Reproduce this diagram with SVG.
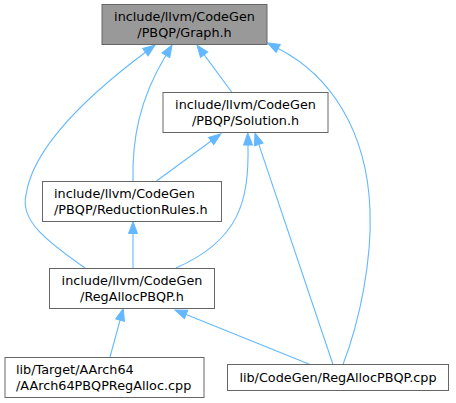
<svg xmlns="http://www.w3.org/2000/svg" width="456" height="403" viewBox="0 0 456 403">
<style>
.box{fill:#ffffff;stroke:#666666;stroke-width:1}
.cur{fill:#999999;stroke:#666666;stroke-width:1}
text{font-family:"DejaVu Sans",sans-serif;font-size:12.8px;fill:#000000}
.c{text-anchor:middle}
.l{text-anchor:start}
.e{fill:none;stroke:#63b8ff;stroke-width:1.1;marker-end:url(#ah)}
</style>
<defs>
<marker id="ah" markerWidth="12" markerHeight="10" refX="0" refY="5" orient="auto" markerUnits="userSpaceOnUse" viewBox="0 0 12 10" overflow="visible">
<path d="M0,0.5 L12,5 L0,9.5 z" fill="#63b8ff" stroke="#63b8ff" stroke-width="1"/>
</marker>
</defs>
<rect width="456" height="403" fill="#ffffff"/>
<g id="edges">
<path class="e" d="M85,268 C45,240 20,220 26,195 C33,145 95,90 145.4,52.2"/>
<path class="e" d="M133,181 C132,140 139,100 165.9,55.3"/>
<path class="e" d="M232,92.5 L204.1,54.7"/>
<path class="e" d="M343,364.5 C360,320 372,260 370,210 C367,130 330,75 278.2,48.4"/>
<path class="e" d="M156.5,181 L211.1,141"/>
<path class="e" d="M176,268 C240,240 249,200 248,145"/>
<path class="e" d="M333,364.5 L258.8,144.4"/>
<path class="e" d="M133,268 L133,233.5"/>
<path class="e" d="M110,357 L120.1,320.1"/>
<path class="e" d="M310,364.5 L186.1,314.5"/>
</g>
<g id="graph_h">
<rect class="cur" x="102" y="4.5" width="165" height="40"/>
<text class="c" x="184.5" y="21">include/llvm/CodeGen</text>
<text class="c" x="184.5" y="37">/PBQP/Graph.h</text>
</g>
<g id="solution_h">
<rect class="box" x="163" y="92.5" width="165" height="40"/>
<text class="c" x="245.5" y="109">include/llvm/CodeGen</text>
<text class="c" x="245.5" y="125">/PBQP/Solution.h</text>
</g>
<g id="reductionrules_h">
<rect class="box" x="42.5" y="181.5" width="179" height="40"/>
<text class="l" x="54" y="198">include/llvm/CodeGen</text>
<text class="l" x="54" y="214">/PBQP/ReductionRules.h</text>
</g>
<g id="regallocpbqp_h">
<rect class="box" x="49.5" y="268.5" width="165" height="40"/>
<text class="c" x="132" y="284.5">include/llvm/CodeGen</text>
<text class="c" x="132" y="300.5">/RegAllocPBQP.h</text>
</g>
<g id="aarch64_cpp">
<rect class="box" x="5" y="357.5" width="199" height="40"/>
<text class="l" x="16" y="373.5">lib/Target/AArch64</text>
<text class="l" x="16" y="389.5">/AArch64PBQPRegAlloc.cpp</text>
</g>
<g id="regallocpbqp_cpp">
<rect class="box" x="227.5" y="364.5" width="221" height="26"/>
<text class="c" x="338" y="382">lib/CodeGen/RegAllocPBQP.cpp</text>
</g>
</svg>
